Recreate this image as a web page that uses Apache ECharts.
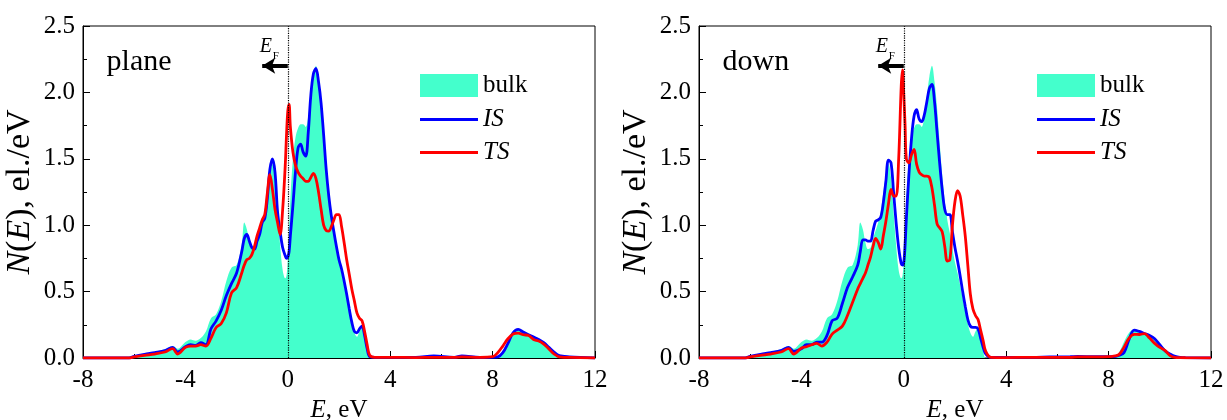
<!DOCTYPE html>
<html>
<head>
<meta charset="utf-8">
<script src="https://cdn.jsdelivr.net/npm/echarts@6/dist/echarts.min.js"></script>
<style>
  html, body { margin: 0; padding: 0; background: #fff; }
  #chart { width: 1227px; height: 420px; }
</style>
</head>
<body>
<div id="chart"></div>
<script>
// ---------- data ----------
const energy = [
  -8, -6.2, -6.0, -5.6, -5.2, -4.8, -4.5, -4.3, -4.0, -3.8,
  -3.6, -3.4, -3.2, -3.0, -2.8, -2.6, -2.4, -2.2, -2.0, -1.8,
  -1.7, -1.6, -1.5, -1.4, -1.3, -1.2, -1.1, -1.0, -0.9, -0.8,
  -0.7, -0.6, -0.5, -0.4, -0.3, -0.2, -0.1, -0.05, 0.0, 0.05,
  0.1, 0.2, 0.3, 0.4, 0.5, 0.6, 0.7, 0.8, 0.9, 1.0,
  1.1, 1.2, 1.3, 1.4, 1.5, 1.6, 1.7, 1.8, 1.9, 2.0,
  2.1, 2.2, 2.3, 2.4, 2.5, 2.6, 2.7, 2.8, 2.9, 3.0,
  3.1, 3.2, 3.4, 4.0, 5.0, 5.7, 6.5, 6.8, 7.5, 8.0,
  8.2, 8.4, 8.6, 8.8, 9.0, 9.2, 9.4, 9.6, 9.8, 10.0,
  10.2, 10.4, 10.6, 10.8, 11.0, 12.0
];

const bulk = [
  0, 0, 0.015, 0.03, 0.045, 0.065, 0.09, 0.07, 0.12, 0.14,
  0.13, 0.15, 0.2, 0.3, 0.33, 0.43, 0.58, 0.68, 0.70, 0.85,
  1.02, 0.97, 0.87, 0.82, 0.83, 0.9, 0.96, 1.02, 1.1, 1.25,
  1.38, 1.46, 1.36, 1.1, 0.85, 0.66, 0.6, 0.62, 0.75, 0.98,
  1.2, 1.5, 1.66, 1.73, 1.76, 1.76, 1.74, 1.82, 1.97, 2.12,
  2.2, 2.08, 1.88, 1.62, 1.38, 1.18, 1.04, 0.94, 0.82, 0.72,
  0.64, 0.55, 0.45, 0.35, 0.26, 0.19, 0.16, 0.2, 0.23, 0.14,
  0.05, 0, 0, 0, 0, 0, 0, 0, 0, 0,
  0.01, 0.04, 0.12, 0.19, 0.215, 0.205, 0.185, 0.165, 0.145, 0.105,
  0.07, 0.02, 0, 0, 0, 0
];

const planeIS = [
  0, 0, 0.012, 0.028, 0.04, 0.055, 0.08, 0.045, 0.085, 0.10,
  0.095, 0.115, 0.10, 0.22, 0.28, 0.36, 0.47, 0.56, 0.64, 0.80,
  0.90, 0.93, 0.88, 0.83, 0.82, 0.88, 0.93, 1.02, 1.05, 1.2,
  1.42, 1.50, 1.40, 1.1, 0.95, 0.83, 0.77, 0.75, 0.76, 0.8,
  0.92, 1.15, 1.4, 1.58, 1.61, 1.55, 1.52, 1.7, 1.98, 2.14,
  2.18, 2.08, 1.92, 1.68, 1.42, 1.22, 1.07, 0.95, 0.84, 0.74,
  0.67, 0.58, 0.48, 0.37, 0.27, 0.2, 0.19, 0.22, 0.24, 0.17,
  0.07, 0.01, 0.005, 0.005, 0.005, 0.015, 0.005, 0.015, 0.005, 0.005,
  0.008, 0.04, 0.11, 0.19, 0.215, 0.195, 0.175, 0.158, 0.14, 0.115,
  0.08, 0.045, 0.018, 0.012, 0.008, 0
];

const planeTS = [
  0, 0, 0.008, 0.02, 0.03, 0.045, 0.07, 0.03, 0.08, 0.09,
  0.09, 0.1, 0.09, 0.15, 0.23, 0.26, 0.34, 0.49, 0.53, 0.64,
  0.70, 0.74, 0.75, 0.78, 0.84, 0.92, 0.98, 1.04, 1.08, 1.24,
  1.38, 1.27, 1.12, 1.02, 0.93, 1.12, 1.45, 1.68, 1.86, 1.91,
  1.74, 1.55, 1.45, 1.40, 1.37, 1.35, 1.33, 1.33, 1.36, 1.39,
  1.35, 1.25, 1.12, 1.0, 0.96, 0.955, 0.99, 1.04, 1.08, 1.08,
  0.99, 0.87, 0.74, 0.63, 0.52, 0.43, 0.34, 0.30, 0.28, 0.2,
  0.1, 0.02, 0.005, 0.005, 0.003, 0.005, 0.005, 0.008, 0.005, 0.01,
  0.04, 0.09, 0.145, 0.18, 0.188, 0.175, 0.17, 0.14, 0.128, 0.105,
  0.068, 0.03, 0.008, 0.005, 0.005, 0
];

const downIS = [
  0, 0, 0.012, 0.028, 0.04, 0.055, 0.08, 0.05, 0.07, 0.1,
  0.1, 0.12, 0.12, 0.17, 0.28, 0.3, 0.41, 0.53, 0.61, 0.70,
  0.80, 0.89, 0.89, 0.88, 0.88, 0.96, 1.03, 1.04, 1.06, 1.17,
  1.33, 1.49, 1.47, 1.25, 1.02, 0.83, 0.71, 0.70, 0.72, 0.85,
  1.05, 1.38, 1.65, 1.82, 1.87, 1.80, 1.78, 1.83, 1.93, 2.03,
  2.06, 1.93, 1.7, 1.47, 1.27, 1.12, 1.08, 1.08, 0.95, 0.83,
  0.73, 0.62, 0.5, 0.39, 0.29, 0.24, 0.23, 0.23, 0.22, 0.15,
  0.08, 0.03, 0.005, 0.005, 0.005, 0.008, 0.01, 0.012, 0.01, 0.01,
  0.01, 0.02, 0.04, 0.14, 0.21, 0.2, 0.185, 0.17, 0.145, 0.1,
  0.055, 0.03, 0.012, 0.005, 0.003, 0
];

const downTS = [
  0, 0, 0.008, 0.02, 0.03, 0.045, 0.07, 0.03, 0.075, 0.085,
  0.1, 0.11, 0.09, 0.12, 0.18, 0.21, 0.24, 0.32, 0.42, 0.52,
  0.56, 0.6, 0.64, 0.7, 0.76, 0.84, 0.9, 0.87, 0.82, 0.92,
  1.03, 1.16, 1.27, 1.22, 1.22, 1.5, 2.05, 2.17, 1.98, 1.75,
  1.5, 1.47, 1.53, 1.57, 1.46, 1.40, 1.38, 1.37, 1.37, 1.36,
  1.28, 1.15, 1.01, 0.98, 0.95, 0.84, 0.73, 0.74, 1.0, 1.18,
  1.26, 1.22, 1.08, 0.92, 0.7, 0.48, 0.37, 0.32, 0.29, 0.21,
  0.13, 0.05, 0.005, 0.003, 0.005, 0.005, 0.005, 0.008, 0.008, 0.01,
  0.015, 0.025, 0.08, 0.15, 0.178, 0.177, 0.184, 0.15, 0.11, 0.08,
  0.058, 0.018, 0.005, 0.003, 0.002, 0
];

const panelNames = ['plane', 'down'];
const xTicks = { min: -8, max: 12, interval: 4 };
const yTicks = { min: 0, max: 2.5, interval: 0.5 };

// ---------- styling ----------
const FONT = '"Liberation Serif", "Times New Roman", serif';
const FILL = '#44ffcc';
const BLUE = '#0000ff';
const RED = '#ff0000';
const LW = 2.8;

const grids = [
  { left: 83, top: 26, width: 512, height: 332 },
  { left: 699, top: 26, width: 512, height: 332 }
];

function pairs(ys) { return energy.map((e, i) => [e, ys[i]]); }

function xAxisFor(i) {
  return {
    gridIndex: i, type: 'value', min: xTicks.min, max: xTicks.max, interval: xTicks.interval,
    axisLine: { show: true, onZero: false, lineStyle: { color: '#000', width: 1 } },
    axisTick: { show: true, inside: true, length: 7, lineStyle: { color: '#000' } },
    minorTick: { show: true, splitNumber: 2, length: 4, lineStyle: { color: '#000' } },
    splitLine: { show: false },
    axisLabel: { color: '#000', fontSize: 25, fontFamily: FONT, margin: 10 },
    name: '{i|E}, eV', nameLocation: 'middle', nameGap: 37,
    nameTextStyle: { color: '#000', fontSize: 25, fontFamily: FONT,
      rich: { i: { fontStyle: 'italic', fontSize: 25, fontFamily: FONT, color: '#000' } } }
  };
}
function yAxisFor(i) {
  return {
    gridIndex: i, type: 'value', min: yTicks.min, max: yTicks.max, interval: yTicks.interval,
    axisLine: { show: true, onZero: false, lineStyle: { color: '#000', width: 1 } },
    axisTick: { show: true, inside: true, length: 7, lineStyle: { color: '#000' } },
    minorTick: { show: true, splitNumber: 2, length: 4, lineStyle: { color: '#000' } },
    splitLine: { show: false },
    axisLabel: { color: '#000', fontSize: 25, fontFamily: FONT, margin: 8,
      formatter: v => v.toFixed(1) },
    name: '{i|N}({i|E}), el./eV', nameLocation: 'middle', nameGap: 46,
    nameTextStyle: { color: '#000', fontSize: 34, fontFamily: FONT,
      rich: { i: { fontStyle: 'italic', fontSize: 34, fontFamily: FONT, color: '#000' } } }
  };
}

const seriesSets = [
  { is: planeIS, ts: planeTS },
  { is: downIS, ts: downTS }
];

const series = [];
seriesSets.forEach((s, i) => {
  series.push({
    name: 'bulk', type: 'line', xAxisIndex: i, yAxisIndex: i, data: pairs(bulk),
    smooth: 0.35, symbol: 'none', color: FILL,
    lineStyle: { width: 0, color: FILL }, areaStyle: { color: FILL, opacity: 1 }, z: 1,
    markLine: { silent: true, symbol: 'none', animation: false, label: { show: false },
      lineStyle: { color: '#000', type: 'dotted', width: 1.2 },
      data: [{ xAxis: 0 }] }
  });
  series.push({
    name: 'IS', type: 'line', xAxisIndex: i, yAxisIndex: i, data: pairs(s.is),
    smooth: 0.35, symbol: 'none', color: BLUE, lineStyle: { width: LW, color: BLUE }, z: 3,
    markLine: { silent: true, animation: false, symbol: ['none', 'arrow'], symbolSize: [12, 13],
      label: { show: false }, lineStyle: { color: '#000', type: 'solid', width: 4 },
      data: [[{ coord: [0, 2.2] }, { coord: [-1.0, 2.2] }]] }
  });
  series.push({
    name: 'TS', type: 'line', xAxisIndex: i, yAxisIndex: i, data: pairs(s.ts),
    smooth: 0.35, symbol: 'none', color: RED, lineStyle: { width: LW, color: RED }, z: 4
  });
});

function legendsFor(left) {
  return [
    { data: ['bulk'], left: left, top: 73, padding: 0, icon: 'rect', itemWidth: 58, itemHeight: 23,
      selectedMode: false,
      textStyle: { color: '#000', fontSize: 25, fontFamily: FONT, lineHeight: 25 } },
    { data: ['IS', 'TS'], left: left, top: 107, padding: 0, orient: 'vertical', icon: 'rect',
      itemWidth: 58, itemHeight: 3, itemGap: 8, selectedMode: false,
      textStyle: { color: '#000', fontSize: 25, fontFamily: FONT, fontStyle: 'italic', lineHeight: 25 } }
  ];
}

const chart = echarts.init(document.getElementById('chart'), null, { renderer: 'canvas' });
chart.setOption({
  animation: false,
  backgroundColor: '#fff',
  grid: grids.map(g => Object.assign({ show: true, borderColor: '#000', borderWidth: 1,
    backgroundColor: 'transparent', containLabel: false, outerBoundsMode: 'none' }, g)),
  xAxis: [xAxisFor(0), xAxisFor(1)],
  yAxis: [yAxisFor(0), yAxisFor(1)],
  legend: legendsFor(420).concat(legendsFor(1037)),
  series: series
});

// annotations, placed from data coordinates
const graphic = [];
[0, 1].forEach(i => {
  const lab = chart.convertToPixel({ gridIndex: i }, [-7.0, 2.2]);
  graphic.push({ type: 'text', x: lab[0] - 2, y: lab[1] - 4,
    style: { text: panelNames[i], font: '30px ' + FONT, fill: '#000', verticalAlign: 'middle' } });
  const ef = chart.convertToPixel({ gridIndex: i }, [-1.1, 2.5]);
  graphic.push({ type: 'text', x: ef[0], y: ef[1] + 21,
    style: { text: 'E', font: 'italic 20px ' + FONT, fill: '#000', verticalAlign: 'middle' } });
  graphic.push({ type: 'text', x: ef[0] + 13, y: ef[1] + 30,
    style: { text: 'F', font: '11px ' + FONT, fill: '#000', verticalAlign: 'middle' } });
});
chart.setOption({ graphic: graphic });
</script>
</body>
</html>
